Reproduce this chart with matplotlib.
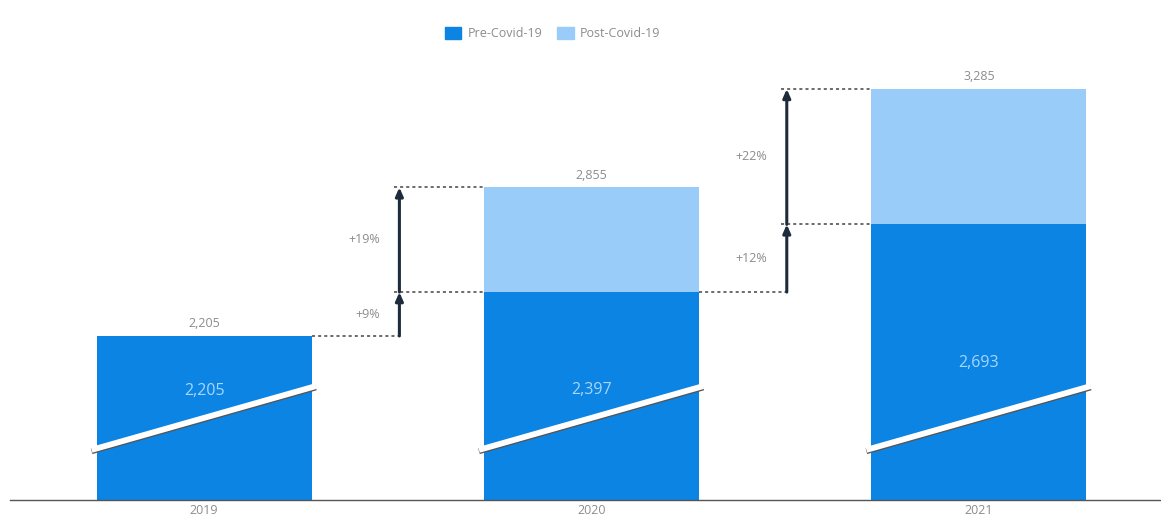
"""
Pre- vs post-Covid-19 forecast, stacked bars with broken y axis.
"""

import matplotlib
matplotlib.use("Agg")
import matplotlib.pyplot as plt
from matplotlib.patches import Patch

# Data #
years = ["2019", "2020", "2021"]
pre_covid = [2205, 2397, 2693]
totals = [2205, 2855, 3285]
post_covid = [t - p for t, p in zip(totals, pre_covid)]

# Style #
dark_blue = "#0b84e4"
light_blue = "#99ccf8"
navy = "#1e2b3c"
grey_text = "#8c8c8c"
plt.rcParams["font.family"] = ["Open Sans", "DejaVu Sans"]

fig = plt.figure(figsize=(11.61, 5.20), dpi=100)
ax = fig.add_axes([0.009, 0.0385, 0.991, 0.9615])
ax.set_xlim(-0.5, 2.47)
ax.set_ylim(1488, 3674)

x_pos = list(range(len(years)))
bar_width = 0.555

# Bars
ax.bar(x_pos, pre_covid, width=bar_width, color=dark_blue, zorder=2)
ax.bar(x_pos, post_covid, bottom=pre_covid, width=bar_width,
       color=light_blue, zorder=2)

# Axis break marks across each bar
for x in x_pos:
    bx = [x - bar_width / 2 - 0.013, x + bar_width / 2 + 0.011]
    by = [1707, 1986]
    ax.plot(bx, [v - 6 for v in by], color="#555555", lw=4.2,
            solid_capstyle="butt", zorder=3)
    ax.plot(bx, by, color="white", lw=4.2, solid_capstyle="butt", zorder=4)

# Value labels
for x, total in zip(x_pos, totals):
    ax.text(x, total + 25, f"{total:,}", ha="center", va="bottom",
            fontsize=9, color=grey_text)
inner_y = [1965, 1970, 2085]
for x, val, iy in zip(x_pos, pre_covid, inner_y):
    ax.text(x, iy, f"{val:,}", ha="center", va="center",
            fontsize=11.5, color="#a9d6fb", zorder=5)

# Growth arrows and guide lines
dash = dict(color="#444444", lw=1.1, ls=(0, (2, 2)), zorder=1)
for i in range(1, len(years)):
    ax_x = i - 0.5 + 0.004
    start = pre_covid[i - 1] if i > 1 else totals[i - 1]
    steps = [start, pre_covid[i], totals[i]]
    bar_left = i - bar_width / 2
    bar_right = i + bar_width / 2

    # dashed guides
    if i == 1:
        ax.plot([i - 1 + bar_width / 2, ax_x], [start, start], **dash)
        ax.plot([ax_x - 0.015, bar_left], [pre_covid[i]] * 2, **dash)
        ax.plot([bar_right, i + 0.5 + 0.004], [pre_covid[i]] * 2, **dash)
    else:
        ax.plot([ax_x - 0.015, bar_left], [pre_covid[i]] * 2, **dash)
    ax.plot([ax_x - 0.015, bar_left], [totals[i]] * 2, **dash)

    for lo, hi in zip(steps[:-1], steps[1:]):
        ax.annotate("", xy=(ax_x, hi), xytext=(ax_x, lo),
                    arrowprops=dict(arrowstyle="-|>,head_length=0.5,head_width=0.22",
                                    color=navy, lw=2.2, shrinkA=0, shrinkB=0),
                    zorder=5)
        pct = round((hi / lo - 1) * 100)
        ax.text(ax_x - 0.05, (lo + hi) / 2, f"+{pct}%", ha="right",
                va="center", fontsize=9, color=grey_text)

# Axes cosmetics
for side in ["top", "right", "left"]:
    ax.spines[side].set_visible(False)
ax.spines["bottom"].set_color("#555555")
ax.spines["bottom"].set_linewidth(1.0)
ax.set_yticks([])
ax.set_xticks(x_pos)
ax.set_xticklabels(years, fontsize=9, color=grey_text)
ax.tick_params(axis="x", length=0, pad=3)

# Legend
handles = [Patch(color=dark_blue, label="Pre-Covid-19"),
           Patch(color=light_blue, label="Post-Covid-19")]
fig.legend(handles=handles, loc="center", bbox_to_anchor=(0.476, 0.935),
           ncol=2, frameon=False, fontsize=9, handlelength=1.3,
           handleheight=1.1, handletextpad=0.5, columnspacing=1.2,
           labelcolor=grey_text)

fig.savefig("out.png", dpi=100)
